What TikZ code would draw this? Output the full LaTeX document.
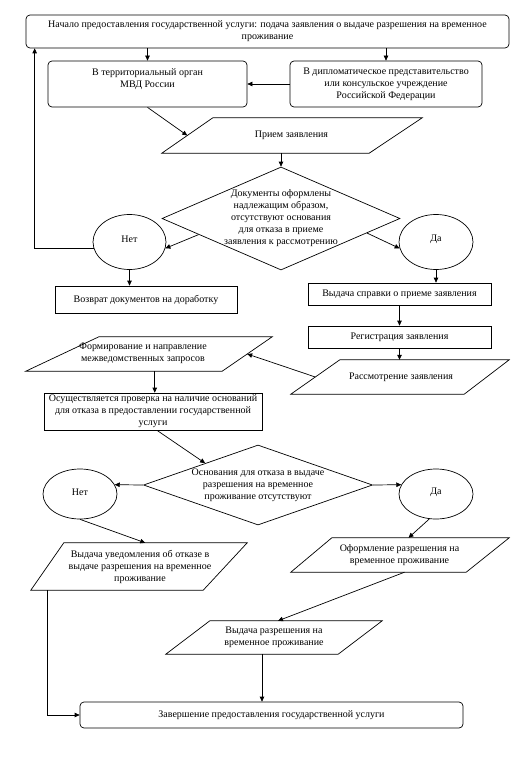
\documentclass[tikz,border=0pt]{standalone}
\usepackage{fontspec}
\setmainfont{Liberation Serif}
\usetikzlibrary{arrows.meta,shapes.geometric,calc}
\newcommand\quadshape[5]{\draw[line] ($(#1.north west)+(#2,0)$) -- ($(#1.north east)+(#3,0)$) -- ($(#1.south east)+(#4,0)$) -- ($(#1.south west)+(#5,0)$) -- cycle;}
\begin{document}
\begin{tikzpicture}[x=1pt,y=-1pt,
  font=\fontsize{10}{12}\selectfont,
  line/.style={draw=black, line width=0.7pt},
  arr/.style={line, -{Triangle[length=5pt,width=4.5pt]}},
  box/.style={line, rectangle, inner sep=0pt, align=center},
  rbox/.style={box, rounded corners=4pt},
  ell/.style={line, ellipse, inner sep=0pt},
  dia/.style={line, diamond, inner sep=0pt},
  ptext/.style={rectangle, inner sep=0pt, align=center},
  txt/.style={inner sep=0pt, align=center}]
\fill[white] (0,0) rectangle (530,757);
% boxes
\node[rbox, minimum width=483pt, minimum height=33pt] (Top) at (267.5,31.5) {Начало  предоставления  государственной  услуги: подача  заявления  о выдаче  разрешения  на временное\\проживание};
\node[rbox, minimum width=199pt, minimum height=46pt] (B2) at (147.5,84) {};
\node[txt] (B2t) at (147.5,79.5) {В территориальный  орган\\МВД России};
\node[rbox, minimum width=192pt, minimum height=46pt] (B3) at (386,84) {В дипломатическое  представительство\\или консульское  учреждение\\Российской  Федерации};
\node[ptext, minimum width=208pt, minimum height=35pt] (P) at (291.5,135.5) {Прием  заявления};
\quadshape{P}{25.5}{26.5}{-26.5}{-25.5}
\node[dia, minimum width=238pt, minimum height=103pt] (D1) at (281,218.5) {};
\node[txt] (D1t) at (D1) {Документы  оформлены\\надлежащим  образом,\\отсутствуют  основания\\для отказа в приеме\\заявления  к рассмотрению};
\node[ell, minimum width=73pt, minimum height=55pt] (N1) at (129.5,242) {};
\node[txt] (N1t) at (129.5,239) {Нет};
\node[ell, minimum width=74pt, minimum height=55pt] (Y1) at (436,242) {};
\node[txt] (Y1t) at (436,239) {Да};
\node[box, minimum width=182pt, minimum height=27pt] (R) at (146,299.5) {Возврат документов  на доработку};
\node[box, minimum width=183pt, minimum height=22pt] (S) at (399.5,294) {Выдача справки о приеме  заявления};
\node[box, minimum width=183pt, minimum height=22pt] (Reg) at (399.5,337) {Регистрация  заявления};
\node[ptext, minimum width=171pt, minimum height=34pt] (Rass) at (401,377) {Рассмотрение  заявления};
\quadshape{Rass}{24.5}{22.5}{-22.5}{-24.5}
\node[ptext, minimum width=184.5pt, minimum height=34pt] (Form) at (154.75,354) {};
\node[txt] (Formt) at (143,353) {Формирование  и  направление\\межведомственных  запросов};
\quadshape{Form}{36.5}{25}{-25}{-36.5}
\node[box, minimum width=218pt, minimum height=37pt] (Osu) at (153,411.5) {Осуществляется  проверка  на наличие  оснований\\для отказа в предоставлении  государственной\\услуги};
\node[dia, minimum width=229pt, minimum height=80pt] (D2) at (258,485) {};
\node[txt] (D2t) at (D2) {Основания  для отказа в выдаче\\разрешения  на временное\\проживание  отсутствуют};
\node[ell, minimum width=74pt, minimum height=50pt] (N2) at (80,494) {};
\node[txt] (N2t) at (80,492) {Нет};
\node[ell, minimum width=74pt, minimum height=50pt] (Y2) at (436,494) {};
\node[txt] (Y2t) at (436,492) {Да};
\node[ptext, minimum width=177.5pt, minimum height=47pt] (U) at (136.25,566.5) {};
\node[txt] (Ut) at (140,567) {Выдача уведомления  об отказе в\\выдаче разрешения  на временное\\проживание};
\quadshape{U}{16.5}{22}{-22}{-16.5}
\node[ptext, minimum width=176pt, minimum height=34pt] (O) at (399.5,555) {Оформление  разрешения  на\\временное  проживание};
\quadshape{O}{20.5}{21.5}{-21.5}{-20.5}
\node[ptext, minimum width=172pt, minimum height=33pt] (V) at (274,637.5) {Выдача разрешения  на\\временное  проживание};
\quadshape{V}{22}{22}{-22}{-22}
\node[rbox, minimum width=383pt, minimum height=26pt] (E) at (271.5,715) {Завершение  предоставления  государственной  услуги};
% connectors
\draw[arr] (B2.north |- Top.south) -- (B2.north);
\draw[arr] (B3.north |- Top.south) -- (B3.north);
\draw[arr] (B3.west) -- (B2.east);
\draw[arr] (B2.south) -- (P.west);
\draw[arr] (D1.north |- P.south) -- (D1.north);
\draw[arr] ($(D1.west)!0.31!(D1.south)$) -- (N1.-10);
\draw[arr] ($(D1.east)!0.28!(D1.south)$) -- (Y1.190);
\draw[arr] (N1.190) -| ([xshift=9pt]Top.south west);
\draw[arr] (N1.south) -- (N1.south |- R.north);
\draw[arr] (Y1.south) -- (Y1.south |- S.north);
\draw[arr] (S.south) -- (Reg.north);
\draw[arr] (Reg.south) -- (Reg.south |- Rass.north);
\draw[arr] (Rass.west) -- (Form.east);
\draw[arr] (Form.south) -- (Form.south |- Osu.north);
\draw[arr] ([xshift=4pt]Osu.south) -- ($(D2.west)!0.54!(D2.north)$);
\draw[arr] (D2.west) -- (N2.15);
\draw[arr] (D2.east) -- (Y2.165);
\draw[arr] (N2.south) -- ([xshift=9pt]U.north);
\draw[arr] (Y2.-105) -- ([xshift=9pt]O.north);
\draw[arr] ([xshift=5pt]O.south) -- ([xshift=4pt]V.north);
\coordinate (v1) at ([xshift=-12pt]V.south);
\draw[arr] (v1) -- (v1 |- E.north);
\draw[arr] (U.south west) |- (E.west);
\end{tikzpicture}
\end{document}
